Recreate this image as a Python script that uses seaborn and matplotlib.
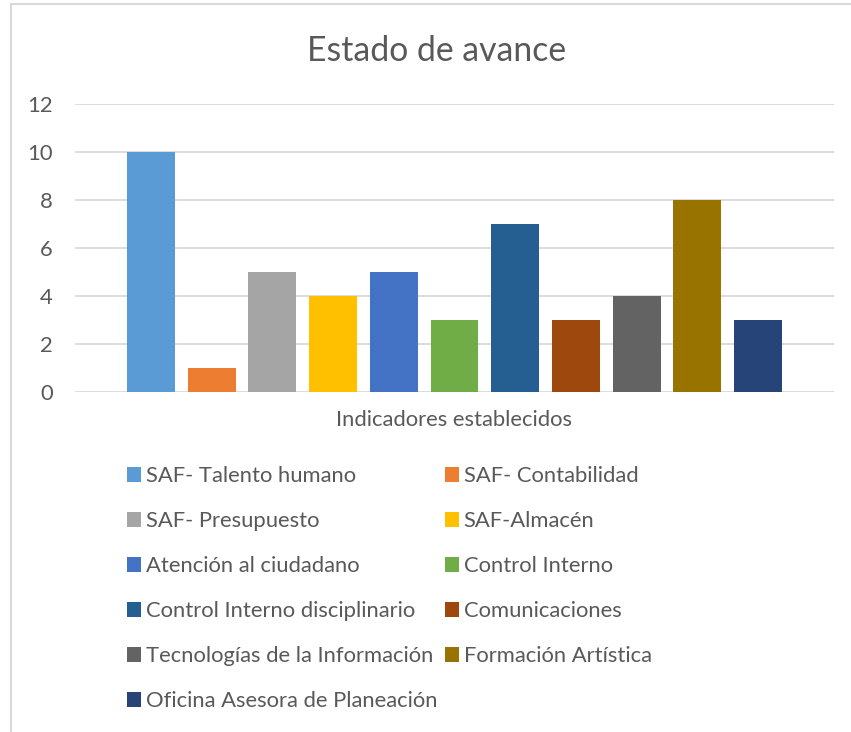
import matplotlib
matplotlib.use("Agg")
import matplotlib.pyplot as plt
from matplotlib.patches import Patch
from matplotlib.lines import Line2D
import seaborn as sns
import pandas as pd

# ---- data ----
category = "Indicadores establecidos"
series = [
    "SAF- Talento humano",
    "SAF- Contabilidad",
    "SAF- Presupuesto",
    "SAF-Almacén",
    "Atención al ciudadano",
    "Control Interno",
    "Control Interno disciplinario",
    "Comunicaciones",
    "Tecnologías de la Información",
    "Formación Artística",
    "Oficina Asesora de Planeación",
]
values = [10, 1, 5, 4, 5, 3, 7, 3, 4, 8, 3]
colors = ["#5B9BD5", "#ED7D31", "#A5A5A5", "#FFC000", "#4472C4", "#70AD47",
          "#255E91", "#9E480E", "#636363", "#997300", "#264478"]
yticks = [0, 2, 4, 6, 8, 10, 12]
title = "Estado de avance"

df = pd.DataFrame({"cat": [category] * len(series), "serie": series, "valor": values})

sns.set_theme(style="white")
plt.rcParams["font.family"] = ["Lato", "DejaVu Sans"]

TXT = "#595959"
GRID = "#D9D9D9"
FS = 15.8
W, H = 851, 732
fig = plt.figure(figsize=(W / 100, H / 100), dpi=100)
ax = fig.add_axes([75 / W, 1 - 392 / H, (834 - 75) / W, (392 - 104) / H])

sns.barplot(data=df, x="cat", y="valor", hue="serie", hue_order=series,
            palette=colors, saturation=1, width=0.88, gap=0.21,
            linewidth=0, legend=False, ax=ax)

ax.set_xlim(-0.5, 0.5)
ax.set_ylim(0, 12)
ax.set_yticks(yticks)
ax.set_xlabel("")
ax.set_ylabel("")
ax.yaxis.grid(True, color=GRID, linewidth=1.3)
ax.set_axisbelow(True)
for s in ax.spines.values():
    s.set_visible(False)
ax.tick_params(axis="y", length=0, pad=16, labelsize=FS, labelcolor=TXT)
ax.tick_params(axis="x", length=0, pad=13, labelsize=FS, labelcolor=TXT)

fig.text(437 / W, 1 - 61 / H, title, ha="center", va="baseline",
         fontsize=24.3, color=TXT)

# legend laid out row by row (matplotlib fills columns first)
order = list(range(0, len(series), 2)) + list(range(1, len(series), 2))
handles = [Patch(facecolor=colors[i], edgecolor="none") for i in order]
labels = [series[i] for i in order]
leg = fig.legend(handles, labels, loc="upper left",
                 bbox_to_anchor=(127 / W, 1 - 466 / H), ncol=2,
                 frameon=False, fontsize=FS, borderpad=0, borderaxespad=0,
                 handlelength=0.64, handleheight=0.64, handletextpad=0.23,
                 columnspacing=0.32, labelspacing=1.14)
for t in leg.get_texts():
    t.set_color(TXT)

# chart frame (left and top borders)
fig.add_artist(Line2D([11 / W, 11 / W], [0, 1 - 4 / H], color=GRID, linewidth=1.5))
fig.add_artist(Line2D([11 / W, 1], [1 - 4 / H, 1 - 4 / H], color=GRID, linewidth=1.5))

fig.savefig("out.png", dpi=100)
